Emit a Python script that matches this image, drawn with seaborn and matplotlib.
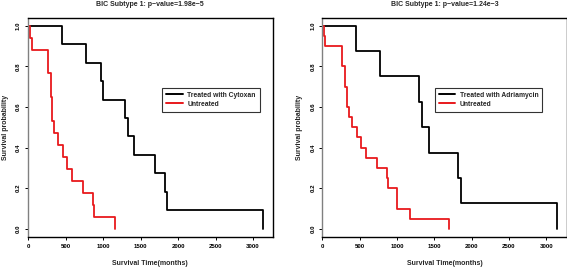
import numpy as np
import matplotlib
matplotlib.use("Agg")
import matplotlib.pyplot as plt
import pandas as pd
import seaborn as sns

# Kaplan-Meier step curves
cyto_time = [0, 453, 772, 977, 999, 1296, 1332, 1416, 1687, 1820, 1851, 3138]
cyto_surv = [1.0, 0.909, 0.818, 0.727, 0.636, 0.545, 0.455, 0.364, 0.273, 0.182, 0.091, 0.0]
untr1_time = [0, 31, 49, 262, 271, 306, 320, 351, 395, 470, 519, 586, 737, 870, 883, 1163]
untr1_surv = [1.0, 0.941, 0.882, 0.824, 0.765, 0.647, 0.529, 0.471, 0.412, 0.353,
              0.294, 0.235, 0.176, 0.118, 0.059, 0.0]

adria_time = [0, 455, 768, 1295, 1339, 1424, 1812, 1862, 3147]
adria_surv = [1.0, 0.875, 0.75, 0.625, 0.5, 0.375, 0.25, 0.125, 0.0]
untr2_time = [0, 22, 40, 268, 303, 330, 353, 402, 469, 513, 589, 732, 866, 879, 1000, 1170, 1692]
untr2_surv = [1.0, 0.95, 0.90, 0.80, 0.70, 0.60, 0.55, 0.50, 0.45, 0.40, 0.35,
              0.30, 0.25, 0.20, 0.10, 0.05, 0.0]

titles = ["BIC Subtype 1: p\u2212value=1.98e\u22125", "BIC Subtype 1: p\u2212value=1.24e\u22123"]
treated_names = ["Treated with Cytoxan", "Treated with Adriamycin"]
xticks = [0, 500, 1000, 1500, 2000, 2500, 3000]
yticks = [0.0, 0.2, 0.4, 0.6, 0.8, 1.0]

sns.set_style("white")
plt.rcParams['font.family'] = ['Liberation Sans', 'DejaVu Sans']
plt.rcParams['font.weight'] = 'bold'

fig = plt.figure(figsize=(5.67, 2.68), dpi=100)
ax1 = fig.add_axes([0.0494, 0.1157, 0.4316, 0.819])
ax2 = fig.add_axes([0.5685, 0.1157, 0.4307, 0.819])

panels = [
    (ax1, cyto_time, cyto_surv, untr1_time, untr1_surv, 0, 3262, 0.549),
    (ax2, adria_time, adria_surv, untr2_time, untr2_surv, 1, 3273, 0.460),
]

for ax, tt, ts, ut, us, k, xmax, legx in panels:
    df = pd.concat([
        pd.DataFrame({"time": tt, "surv": ts, "group": treated_names[k]}),
        pd.DataFrame({"time": ut, "surv": us, "group": "Untreated"}),
    ])
    pal = {treated_names[k]: "black", "Untreated": "#e8191c"}
    sns.lineplot(data=df, x="time", y="surv", hue="group", palette=pal,
                 estimator=None, sort=False, drawstyle="steps-post",
                 linewidth=1.3, ax=ax)
    ax.set_xlim(0, xmax)
    ax.set_ylim(-0.04, 1.04)
    ax.set_xticks(xticks)
    ax.set_yticks(yticks)
    ax.set_xticklabels([str(v) for v in xticks], fontsize=4.4)
    ax.set_yticklabels([f"{v:.1f}" for v in yticks], fontsize=4.4, rotation=90, va="center")
    ax.tick_params(axis="both", direction="out", length=2.5, width=0.7, pad=2.5,
                   colors="black", bottom=True, left=True)
    for side in ["top", "right", "bottom"]:
        ax.spines[side].set_color("black")
        ax.spines[side].set_linewidth(1.0)
    ax.spines["left"].set_color("#808080")
    ax.spines["left"].set_linewidth(1.0)
    ax.set_title(titles[k], fontsize=5, fontweight="bold", pad=8)
    ax.set_xlabel("Survival Time(months)", fontsize=5, fontweight="bold", labelpad=8)
    ax.set_ylabel("Survival probability", fontsize=5, fontweight="bold", labelpad=5)
    leg = ax.legend(loc="upper left", bbox_to_anchor=(legx, 0.68), borderaxespad=0,
                    fontsize=4.9, frameon=True, fancybox=False, edgecolor="black",
                    handlelength=2.4, handletextpad=0.65, borderpad=0.6,
                    labelspacing=0.3, title=None)
    leg.get_frame().set_linewidth(0.8)
    for line in leg.get_lines():
        line.set_linewidth(1.4)

fig.savefig("out.png", dpi=100)
